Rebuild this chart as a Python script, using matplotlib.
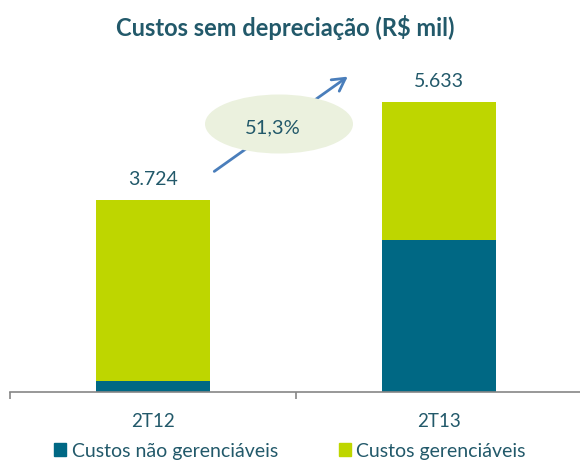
import matplotlib.pyplot as plt
from matplotlib.patches import Ellipse, Patch, FancyArrowPatch
import numpy as np

# data
periods = ["2T12", "2T13"]
nao_gerenciaveis = [214, 2944]
gerenciaveis = [3510, 2689]
totals = ["3.724", "5.633"]
growth = "51,3%"

teal = "#006884"
green = "#BED600"
txt = "#22596A"
W, H = 580, 461

plt.rcParams['font.family'] = ['Lato', 'DejaVu Sans']

fig = plt.figure(figsize=(W / 100, H / 100), dpi=100)
# axes: x pixel 10..580, y pixel 60..392
ax = fig.add_axes([10 / W, 1 - 392 / H, (580 - 10) / W, (392 - 60) / H])

x = np.arange(len(periods))
ax.bar(x, nao_gerenciaveis, width=0.4, color=teal)
ax.bar(x, gerenciaveis, width=0.4, bottom=nao_gerenciaveis, color=green)

tot_vals = np.array(nao_gerenciaveis) + np.array(gerenciaveis)
for xi, t, lab in zip(x, tot_vals, totals):
    ax.text(xi, t + 400, lab, ha="center", va="center", fontsize=14, color=txt)

ax.set_xlim(-0.5, 1.493)
ax.set_ylim(0, 6447)
for s in ["top", "right", "left"]:
    ax.spines[s].set_visible(False)
ax.spines["bottom"].set_color("#868686")
ax.spines["bottom"].set_linewidth(1.2)
ax.set_yticks([])
ax.set_xticks([-0.5, 0.5], minor=True)
ax.tick_params(axis="x", which="minor", length=5, color="#868686", width=1.2)
ax.set_xticks(x)
ax.set_xticklabels(periods, fontsize=13.5, color=txt)
ax.tick_params(axis="x", which="major", length=0, pad=15)

# title
fig.text(285 / W, 1 - 28 / H, "Custos sem depreciação (R$ mil)", ha="center", va="center",
         fontsize=17, fontweight="bold", color=txt)

# growth arrow + ellipse
def fxy(px, py):
    return (px / W, 1 - py / H)

fig.add_artist(FancyArrowPatch(
    fxy(212, 173), fxy(350, 75), transform=fig.transFigure,
    arrowstyle="->,head_length=9,head_width=5", color="#4A7EBB", lw=2))
fig.add_artist(Ellipse(fxy(279, 124), 148 / W, 59 / H, transform=fig.transFigure,
                       facecolor="#EBF1DE", edgecolor="none"))
fig.text(273 / W, 1 - 128 / H, growth, ha="center", va="center", fontsize=14.5, color=txt)

# legend
handles = [Patch(color=teal), Patch(color=green)]
fig.legend(handles, ["Custos não gerenciáveis", "Custos gerenciáveis"], ncol=2,
           loc="center", bbox_to_anchor=(290 / W, 1 - 451 / H), frameon=False,
           fontsize=14, labelcolor=txt, handlelength=0.62, handleheight=0.62,
           handletextpad=0.3, columnspacing=3.1, borderpad=0, borderaxespad=0)

fig.savefig("out.png", dpi=100)
